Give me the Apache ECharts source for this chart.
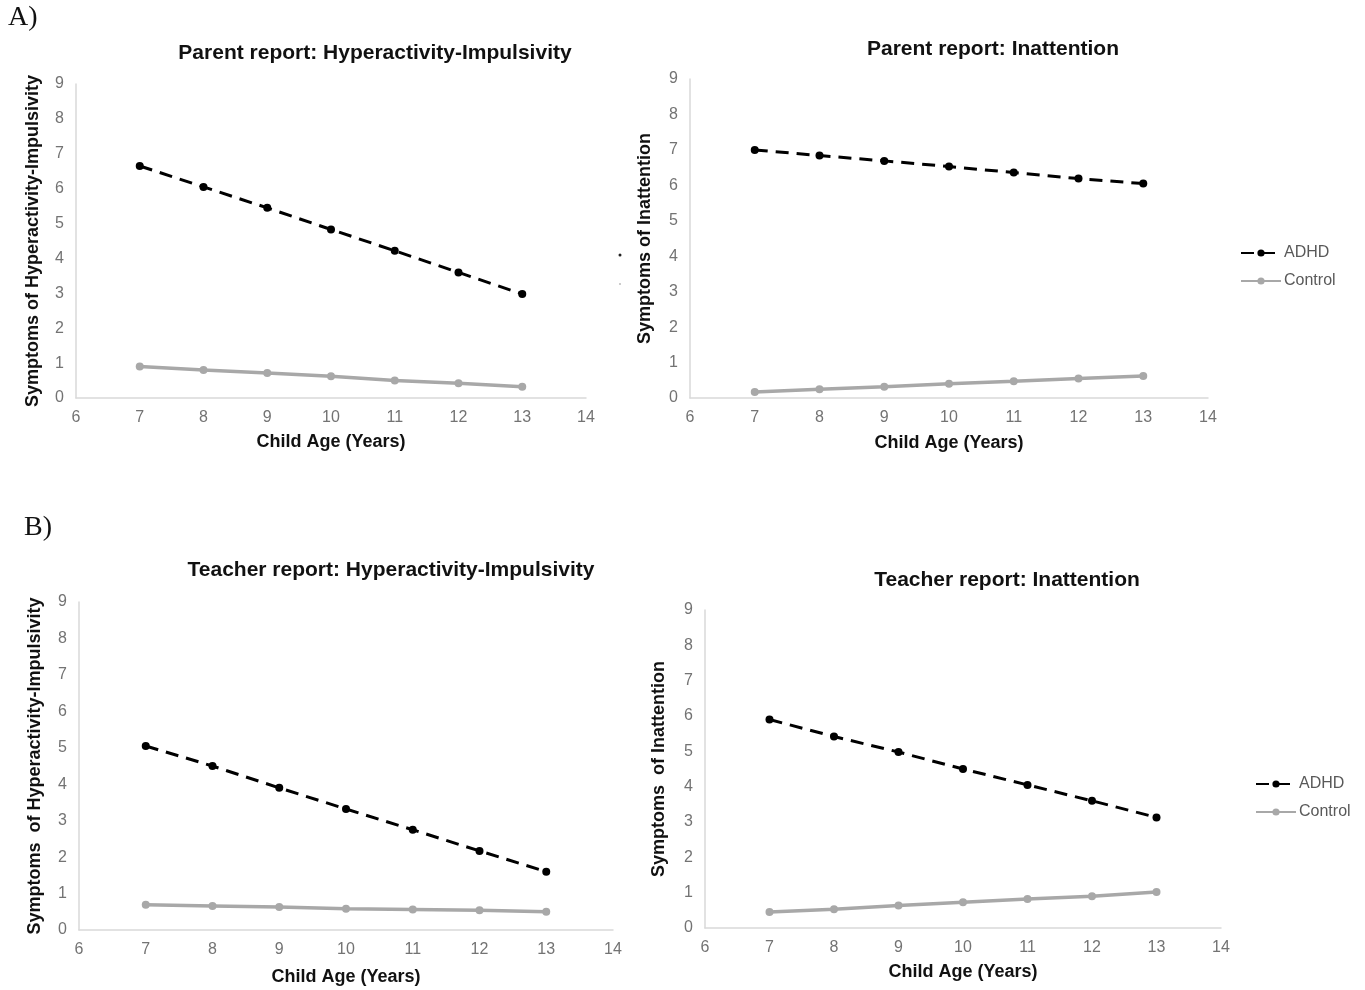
<!DOCTYPE html>
<html>
<head>
<meta charset="utf-8">
<script src="https://cdn.jsdelivr.net/npm/echarts@6/dist/echarts.min.js"></script>
<style>html,body{margin:0;padding:0;background:#fff}#main{width:1365px;height:990px}</style>
</head>
<body>
<div id="main"></div>
<script>
// ---- data ----
const ages = [7, 8, 9, 10, 11, 12, 13];
const parentHI_ADHD    = [6.65, 6.05, 5.45, 4.83, 4.22, 3.60, 2.98];
const parentHI_Control = [0.90, 0.80, 0.72, 0.62, 0.50, 0.42, 0.32];
const parentIN_ADHD    = [7.00, 6.84, 6.69, 6.53, 6.36, 6.19, 6.05];
const parentIN_Control = [0.17, 0.25, 0.32, 0.40, 0.47, 0.55, 0.62];
const teacherHI_ADHD    = [5.05, 4.50, 3.90, 3.32, 2.75, 2.17, 1.60];
const teacherHI_Control = [0.69, 0.66, 0.63, 0.58, 0.56, 0.54, 0.50];
const teacherIN_ADHD    = [5.90, 5.42, 4.98, 4.50, 4.05, 3.60, 3.13];
const teacherIN_Control = [0.45, 0.53, 0.64, 0.73, 0.82, 0.90, 1.02];
const panelTitles = ['Parent report: Hyperactivity-Impulsivity', 'Parent report: Inattention',
                     'Teacher report: Hyperactivity-Impulsivity', 'Teacher report: Inattention'];
const yNames = ['Symptoms of Hyperactivity-Impulsivity', 'Symptoms of Inattention',
                'Symptoms  of Hyperactivity-Impulsivity', 'Symptoms  of Inattention'];
const xName = 'Child Age (Years)';
const seriesNames = ['ADHD', 'Control'];

// ---- layout ----
const grids = [
  {left: 76, top: 84, width: 510, height: 314},
  {left: 690, top: 79, width: 518, height: 319},
  {left: 79, top: 602, width: 534, height: 328},
  {left: 705, top: 610, width: 516, height: 318}
];
const titlePos = [[370, 52], [988, 48], [386, 569], [1002, 579]];
const yNameGap = [34, 36, 35, 37];
const xNameGap = [35, 36, 38, 35];
const FONT = '"Liberation Sans", Arial, sans-serif';
const TITLE_SIZE = 21;

const pairs = [
  [parentHI_ADHD, parentHI_Control],
  [parentIN_ADHD, parentIN_Control],
  [teacherHI_ADHD, teacherHI_Control],
  [teacherIN_ADHD, teacherIN_Control]
];

const xAxis = [], yAxis = [], series = [], title = [];
grids.forEach((g, i) => {
  title.push({
    text: panelTitles[i], left: titlePos[i][0], top: titlePos[i][1] - TITLE_SIZE / 2 - 4, textAlign: 'center',
    textStyle: {fontFamily: FONT, fontSize: TITLE_SIZE, fontWeight: 'bold', color: '#111'}
  });
  xAxis.push({
    type: 'value', gridIndex: i, min: 6, max: 14, interval: 1,
    name: xName, nameLocation: 'middle', nameGap: xNameGap[i],
    nameTextStyle: {fontFamily: FONT, fontSize: 18, fontWeight: 'bold', color: '#111'},
    axisLine: {show: true, lineStyle: {color: '#d9d9d9', width: 1.5}},
    axisTick: {show: false}, splitLine: {show: false},
    axisLabel: {fontFamily: FONT, fontSize: 16, color: '#737373', margin: 12}
  });
  yAxis.push({
    type: 'value', gridIndex: i, min: 0, max: 9, interval: 1,
    name: yNames[i], nameLocation: 'middle', nameGap: yNameGap[i],
    nameTextStyle: {fontFamily: FONT, fontSize: 18, fontWeight: 'bold', color: '#111'},
    axisLine: {show: true, lineStyle: {color: '#d9d9d9', width: 1.5}},
    axisTick: {show: false}, splitLine: {show: false},
    axisLabel: {fontFamily: FONT, fontSize: 16, color: '#737373', margin: 12}
  });
  series.push({
    name: seriesNames[0], type: 'line', xAxisIndex: i, yAxisIndex: i,
    data: ages.map((a, k) => [a, pairs[i][0][k]]),
    symbol: 'circle', symbolSize: 8,
    itemStyle: {color: '#000'},
    lineStyle: {color: '#000', width: 3, type: [13, 8]}
  });
  series.push({
    name: seriesNames[1], type: 'line', xAxisIndex: i, yAxisIndex: i,
    data: ages.map((a, k) => [a, pairs[i][1][k]]),
    symbol: 'circle', symbolSize: 8,
    itemStyle: {color: '#a8a8a8'},
    lineStyle: {color: '#a8a8a8', width: 3.5}
  });
});

const legendBase = {
  orient: 'vertical', itemWidth: 40, itemHeight: 9, itemGap: 12,
  data: seriesNames, selectedMode: false,
  textStyle: {fontFamily: FONT, fontSize: 16, color: '#595959', padding: [0, 0, 0, -2]}
};

const option = {
  animation: false,
  backgroundColor: '#fff',
  title: title,
  grid: grids,
  xAxis: xAxis,
  yAxis: yAxis,
  series: series,
  legend: [
    Object.assign({}, legendBase, {left: 1235, top: 240}),
    Object.assign({}, legendBase, {left: 1250, top: 771})
  ],
  graphic: [
    {type: 'text', left: 8, top: 4, style: {text: 'A)', font: '28px "Liberation Serif", "Times New Roman", serif', fill: '#111'}},
    {type: 'text', left: 24, top: 514, style: {text: 'B)', font: '28px "Liberation Serif", "Times New Roman", serif', fill: '#111'}},
    {type: 'circle', shape: {cx: 620, cy: 255, r: 1.5}, style: {fill: '#222'}},
    {type: 'circle', shape: {cx: 620, cy: 284, r: 1}, style: {fill: '#bbb'}}
  ]
};

echarts.init(document.getElementById('main')).setOption(option);
</script>
</body>
</html>
